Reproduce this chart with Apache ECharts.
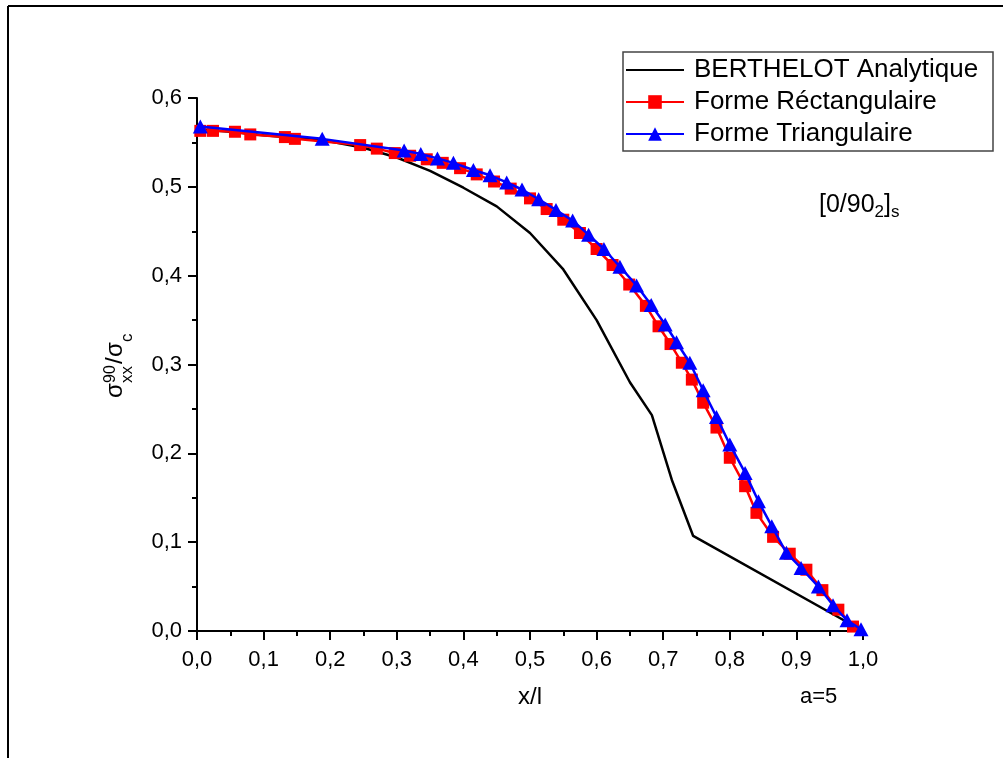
<!DOCTYPE html>
<html>
<head>
<meta charset="utf-8">
<title>Contrainte normalisée σxx/σc — stratifié [0/90₂]s</title>
<script src="https://cdn.jsdelivr.net/npm/echarts@6/dist/echarts.min.js"></script>
<style>
  html, body { margin: 0; padding: 0; background: #fff; }
  #chart { width: 1003px; height: 758px; }
</style>
</head>
<body>
<div id="chart"></div>
<script>
// Axis ticks (decimal comma)
const xTicks = [0, 0.1, 0.2, 0.3, 0.4, 0.5, 0.6, 0.7, 0.8, 0.9, 1.0];
const xTickLabels = ['0,0', '0,1', '0,2', '0,3', '0,4', '0,5', '0,6', '0,7', '0,8', '0,9', '1,0'];
const yTicks = [0, 0.1, 0.2, 0.3, 0.4, 0.5, 0.6];
const yTickLabels = ['0,0', '0,1', '0,2', '0,3', '0,4', '0,5', '0,6'];

// BERTHELOT analytical solution
const analyticX = [0, 0.05, 0.1, 0.15, 0.2, 0.25, 0.3, 0.35, 0.4, 0.45, 0.5, 0.55, 0.6, 0.65, 0.683, 0.713, 0.745, 1.0];
const analyticY = [0.565, 0.562, 0.558, 0.555, 0.551, 0.544, 0.533, 0.518, 0.499, 0.478, 0.448, 0.407, 0.35, 0.28, 0.243, 0.17, 0.107, 0.0];

// Rectangular element shape
const rectX = [0.005, 0.024, 0.057, 0.080, 0.132, 0.147, 0.245, 0.270, 0.297, 0.320, 0.345, 0.369, 0.395, 0.420,
  0.446, 0.471, 0.500, 0.525, 0.550, 0.575, 0.600, 0.624, 0.649, 0.674, 0.693, 0.711, 0.728, 0.743, 0.760,
  0.780, 0.800, 0.823, 0.840, 0.865, 0.890, 0.915, 0.939, 0.963, 0.985];
const rectY = [0.563, 0.563, 0.562, 0.559, 0.556, 0.554, 0.547, 0.543, 0.538, 0.535, 0.531, 0.527, 0.521, 0.514,
  0.506, 0.498, 0.487, 0.475, 0.463, 0.448, 0.430, 0.412, 0.390, 0.366, 0.343, 0.323, 0.302, 0.283, 0.257,
  0.229, 0.195, 0.163, 0.133, 0.106, 0.087, 0.069, 0.046, 0.024, 0.005];

// Triangular element shape
const triX = [0.005, 0.188, 0.311, 0.336, 0.361, 0.385, 0.415, 0.440, 0.465, 0.488, 0.513, 0.539, 0.564, 0.588,
  0.611, 0.635, 0.660, 0.682, 0.703, 0.720, 0.740, 0.760, 0.780, 0.800, 0.823, 0.843, 0.863, 0.885, 0.907,
  0.933, 0.955, 0.976, 0.997];
const triY = [0.568, 0.554, 0.541, 0.537, 0.532, 0.527, 0.519, 0.513, 0.505, 0.497, 0.486, 0.474, 0.462, 0.446,
  0.430, 0.410, 0.389, 0.367, 0.345, 0.325, 0.302, 0.271, 0.241, 0.210, 0.178, 0.146, 0.118, 0.088, 0.071,
  0.050, 0.029, 0.012, 0.002];

const zip = (xs, ys) => xs.map((x, i) => [x, ys[i]]);
const FONT = '"Liberation Sans", Arial, sans-serif';

function tickLabel(ticks, labels) {
  return function (v) {
    let best = 0;
    ticks.forEach((t, i) => { if (Math.abs(t - v) < Math.abs(ticks[best] - v)) best = i; });
    return labels[best];
  };
}

const chart = echarts.init(document.getElementById('chart'), null, { renderer: 'canvas' });

const axisCommon = {
  axisLine: { show: true, onZero: false, lineStyle: { color: '#000', width: 2 } },
  axisTick: { show: true, inside: false, length: 9, lineStyle: { color: '#000', width: 2 } },
  minorTick: { show: true, splitNumber: 2, length: 5, lineStyle: { color: '#000', width: 2 } },
  splitLine: { show: false },
  minorSplitLine: { show: false }
};

// Y-axis title: sigma with stacked 90 / xx, then /sigma_c, read bottom to top
function yTitle() {
  const base = 24, small = 16, sub = 17;
  const mid = (baseline, size) => baseline - 0.35 * size;
  const t = (text, x, baseline, size) => ({
    type: 'text', x: x, y: mid(baseline, size),
    style: { text: text, font: size + 'px ' + FONT, fill: '#000', align: 'left', verticalAlign: 'middle' }
  });
  return {
    type: 'group', x: 124, y: 398, rotation: Math.PI / 2,
    children: [
      t('σ', 0, 0, base),
      t('90', 15, -8, small),
      t('xx', 15, 9, sub),
      t('/', 34, 0, base),
      t('σ', 41, 0, base),
      t('c', 56, 9, sub)
    ]
  };
}

const option = {
  animation: false,
  backgroundColor: '#fff',
  textStyle: { fontFamily: FONT },
  grid: { left: 197, right: 140, top: 98, bottom: 127, containLabel: false },
  xAxis: Object.assign({
    type: 'value', min: 0, max: 1, interval: 0.1,
    name: 'x/l', nameLocation: 'middle', nameGap: 54,
    nameTextStyle: { fontSize: 24, color: '#000', fontFamily: FONT },
    axisLabel: { show: true, margin: 18, fontSize: 22, color: '#000', fontFamily: FONT,
      formatter: tickLabel(xTicks, xTickLabels) }
  }, axisCommon),
  yAxis: Object.assign({
    type: 'value', min: 0, max: 0.6, interval: 0.1,
    axisLabel: { show: true, margin: 15, fontSize: 22, color: '#000', fontFamily: FONT,
      formatter: tickLabel(yTicks, yTickLabels) }
  }, axisCommon),
  legend: {
    show: true, orient: 'vertical', left: 625, top: 56, padding: 0, itemGap: 4,
    itemWidth: 58, itemHeight: 17,
    textStyle: { fontSize: 26, color: '#000', fontFamily: FONT, lineHeight: 28, padding: [0, 0, 0, 5] },
    data: [
      { name: 'BERTHELOT Analytique', itemStyle: { opacity: 0 } },
      'Forme Réctangulaire',
      'Forme Triangulaire'
    ]
  },
  series: [
    {
      name: 'BERTHELOT Analytique', type: 'line', data: zip(analyticX, analyticY),
      showSymbol: false, symbol: 'none', smooth: false,
      lineStyle: { color: '#000', width: 2.5 }, itemStyle: { color: '#000' }, z: 2
    },
    {
      name: 'Forme Réctangulaire', type: 'line', data: zip(rectX, rectY),
      symbol: 'rect', symbolSize: 12, showSymbol: true,
      lineStyle: { color: '#ff0000', width: 2.5 }, itemStyle: { color: '#ff0000' }, z: 3
    },
    {
      name: 'Forme Triangulaire', type: 'line', data: zip(triX, triY),
      symbol: 'triangle', symbolSize: [15, 14], showSymbol: true,
      lineStyle: { color: '#0000ff', width: 2.5 }, itemStyle: { color: '#0000ff' }, z: 4
    }
  ],
  graphic: [
    // outer frame (top and left edges)
    { type: 'line', shape: { x1: 8, y1: 6, x2: 1003, y2: 6 }, style: { stroke: '#000', lineWidth: 2 } },
    { type: 'line', shape: { x1: 8, y1: 6, x2: 8, y2: 758 }, style: { stroke: '#000', lineWidth: 2 } },
    // legend box
    { type: 'rect', shape: { x: 623, y: 52, width: 370, height: 99 },
      style: { fill: 'none', stroke: '#444', lineWidth: 1.5 }, z: 0 },
    // laminate label
    { type: 'text', x: 819, y: 205,
      style: {
        text: '{a|[0/90}{b|2}{a|]}{b|s}', fill: '#000', align: 'left', verticalAlign: 'middle',
        rich: {
          a: { fontSize: 25, fontFamily: FONT, fill: '#000' },
          b: { fontSize: 17, fontFamily: FONT, fill: '#000', padding: [14, 0, 0, 0] }
        }
      } },
    // aspect ratio
    { type: 'text', x: 800, y: 697,
      style: { text: 'a=5', font: '22px ' + FONT, fill: '#000', align: 'left', verticalAlign: 'middle' } },
    yTitle()
  ]
};

chart.setOption(option);
</script>
</body>
</html>
